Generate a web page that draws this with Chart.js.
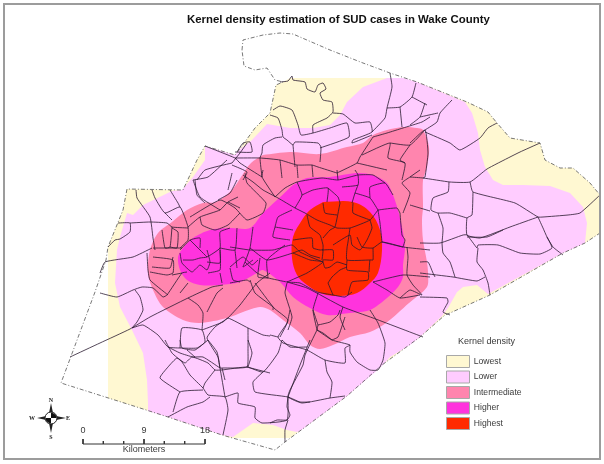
<!DOCTYPE html>
<html>
<head>
<meta charset="utf-8">
<title>Kernel density estimation of SUD cases in Wake County</title>
<script src="https://cdn.jsdelivr.net/npm/chart.js@4/dist/chart.umd.min.js"></script>
<style>
  html, body { margin: 0; padding: 0; background: #fff; }
  #wrap { position: relative; width: 604px; height: 464px; overflow: hidden; }
  #frame { position: absolute; left: 3px; top: 3px; width: 594px; height: 453px; border: 2px solid #9c9c9c; pointer-events: none; }
</style>
</head>
<body>
<div id="wrap">
  <canvas id="mapChart" width="604" height="464"></canvas>
  <div id="frame"></div>
</div>
<script>
// ========== DATA (map units) ========== //
const chartTitle = "Kernel density estimation of SUD cases in Wake County";
const legendTitle = "Kernel density";
const bandNames = ["Lowest", "Lower", "Intermediate", "Higher", "Highest"];
const bandColors = ["#FFF8D2", "#FFCCFF", "#FF85AE", "#FF33DD", "#FF2A00"];

const county = [[242,50],[243,40],[263,35],[280,33],[293,34],[330,50],[363,63],[390,73],[417,82],[467,102],[488,112],[497,123],[510,138],[540,143],[545,160],[560,168],[573,168],[590,183],[600,195],[600,233],[585,243],[563,253],[490,295],[450,313],[445,315],[420,337],[382,365],[347,396],[285,442],[275,450],[222,435],[168,417],[140,408],[61,383],[95,292],[106,260],[108,247],[123,210],[127,189],[183,190],[197,160],[205,146],[235,155],[239,150],[255,128],[270,113],[276,85],[283,82],[275,80],[267,68],[255,70],[244,66],[242,50]];

const lowest = [[283,82],[290,78],[395,78],[417,82],[467,102],[488,112],[497,123],[510,138],[540,143],[545,160],[560,168],[573,168],[590,183],[600,195],[600,233],[585,243],[563,253],[490,295],[450,313],[445,315],[420,337],[382,365],[347,396],[290,438],[231,438],[222,435],[168,417],[140,408],[108,398],[108,247],[123,210],[127,189],[183,190],[197,160],[205,146],[235,155],[239,150],[255,128],[270,113],[276,85],[283,82]];
const lower = [[387,78],[403,78],[417,82],[465,102],[472,113],[478,133],[480,150],[485,167],[493,180],[503,185],[523,185],[550,186],[570,193],[583,207],[587,223],[585,243],[563,253],[488,294],[477,285],[463,287],[457,292],[448,308],[442,316],[420,337],[410,345],[390,357],[380,368],[347,396],[300,431],[297,432],[287,430],[273,425],[253,423],[233,437],[222,435],[168,417],[148,411],[148,403],[147,380],[143,353],[132,330],[120,307],[115,283],[117,250],[120,237],[127,213],[133,215],[143,205],[172,191],[182,190],[193,177],[205,160],[205,146],[235,155],[239,150],[252,140],[267,124],[290,128],[313,128],[330,125],[340,115],[347,102],[363,87],[387,78]];
const intermediate = [[263,155],[290,152],[320,154],[347,147],[363,143],[373,135],[387,130],[403,127],[417,128],[423,130],[429,147],[427,167],[423,180],[423,207],[422,220],[423,240],[427,262],[428,273],[427,287],[409,303],[386,323],[370,332],[350,337],[333,345],[320,349],[310,345],[300,333],[283,320],[270,310],[260,307],[243,312],[227,318],[200,323],[183,320],[163,307],[153,290],[148,273],[150,250],[158,233],[172,222],[187,210],[203,203],[216,202],[232,190],[241,177],[251,163],[263,155]];
const higher = [[293,185],[307,178],[330,177],[357,173],[373,175],[387,183],[393,195],[398,210],[402,227],[405,247],[403,265],[403,277],[398,287],[387,298],[370,310],[350,313],[327,315],[310,308],[293,297],[280,282],[263,270],[257,273],[240,282],[220,285],[200,285],[187,280],[180,270],[178,257],[183,248],[193,238],[210,230],[230,228],[250,228],[263,213],[277,200],[293,185]];
const highest = [[323,202],[353,202],[370,212],[380,230],[382,250],[378,273],[370,283],[357,293],[340,296],[323,294],[307,285],[297,275],[292,258],[293,237],[302,220],[310,210],[323,202]];

const roads = [
  [[280,82],[288,81],[292,76],[293,80],[305,82],[307,89],[315,92],[318,85],[323,83],[326,89],[320,93],[323,100],[332,102],[333,112],[327,118],[313,125],[313,133]],
  [[273,110],[280,106],[292,110],[298,125],[301,135],[313,133],[330,128],[347,123],[349,137],[320,148]],
  [[270,115],[278,118],[282,130],[283,137],[287,140],[293,145],[295,142],[318,143],[321,147],[320,162]],
  [[282,137],[275,138],[263,145],[262,153]],
  [[293,145],[295,167]],
  [[333,113],[343,114],[355,123],[370,122],[372,132],[353,140],[352,143],[372,135]],
  [[390,73],[392,87],[387,108],[385,118],[372,132]],
  [[387,108],[400,107],[412,97],[416,83]],
  [[400,107],[402,127]],
  [[412,97],[427,105]],
  [[373,137],[387,133],[403,128],[422,122],[430,117]],
  [[425,130],[437,122],[440,113],[452,100]],
  [[420,117],[438,113]],
  [[410,125],[420,117],[425,103]],
  [[425,132],[450,143],[460,150],[480,138],[488,128],[497,123]],
  [[410,143],[425,130],[428,153],[425,177],[423,178]],
  [[410,177],[423,178],[450,182],[470,182],[487,169],[510,157],[520,152],[540,143]],
  [[470,182],[473,192],[515,203],[538,217],[543,217],[568,215],[580,213],[600,195]],
  [[473,192],[472,215],[467,218],[467,235],[480,238],[510,227],[538,217]],
  [[449,182],[448,192],[433,198],[431,210],[438,213],[450,213],[467,218]],
  [[438,213],[443,228],[442,243]],
  [[410,205],[430,211]],
  [[538,217],[543,228],[547,237],[553,247],[563,255]],
  [[420,243],[440,243],[463,235],[467,235],[477,248],[478,245],[498,245],[520,253],[540,254],[552,248],[547,237]],
  [[467,237],[487,237],[503,230]],
  [[442,243],[443,253],[450,262],[455,277]],
  [[478,248],[477,262],[483,270],[488,283],[490,295]],
  [[420,262],[428,262],[433,273],[435,277]],
  [[420,273],[453,277],[477,281],[485,277]],
  [[420,297],[447,298],[448,302],[443,312],[450,315]],
  [[230,247],[250,250],[273,250],[292,245],[300,252],[313,258],[323,262]],
  [[293,240],[312,238],[313,248],[320,250],[323,250],[322,260]],
  [[307,215],[310,227],[320,235],[323,245],[323,250]],
  [[305,213],[317,220],[330,225],[337,228],[350,228],[370,220],[378,210]],
  [[340,203],[335,227],[330,230],[323,238]],
  [[323,203],[325,213],[337,215]],
  [[353,203],[353,213],[370,220]],
  [[350,228],[348,242],[347,248],[347,260],[370,260]],
  [[333,245],[350,235],[352,245],[360,250],[367,240],[372,228],[370,220]],
  [[357,237],[362,247],[373,248],[382,242],[403,247]],
  [[347,260],[347,270],[368,272],[368,280],[352,282],[348,295]],
  [[373,248],[373,260],[370,260],[369,272]],
  [[322,250],[333,250],[333,260],[323,260],[325,268],[330,267],[337,262],[347,265]],
  [[293,253],[302,250],[310,255],[320,258]],
  [[293,253],[310,260],[323,262],[307,273],[287,282]],
  [[268,278],[287,282],[300,283],[317,292],[333,295],[345,297],[352,292]],
  [[328,283],[332,277],[340,270],[347,267]],
  [[328,283],[333,295]],
  [[373,282],[387,290],[400,298],[420,295]],
  [[287,282],[307,288],[343,307],[373,318],[423,337]],
  [[378,210],[380,223],[382,242]],
  [[243,175],[253,182],[263,190],[278,198],[295,208],[305,213]],
  [[275,197],[285,188],[297,182],[322,178],[338,180],[358,175],[373,175],[385,183]],
  [[263,170],[262,177],[275,197]],
  [[297,182],[302,195],[295,208]],
  [[302,195],[313,190],[328,188],[327,202]],
  [[328,188],[338,197],[340,203]],
  [[337,170],[338,180]],
  [[342,187],[358,185],[358,175],[355,170]],
  [[358,185],[355,193],[352,203]],
  [[355,193],[370,198],[378,210]],
  [[370,198],[370,187],[385,183],[393,195]],
  [[378,210],[397,208],[400,213]],
  [[382,242],[403,247],[430,250]],
  [[400,213],[402,235],[405,240],[403,247]],
  [[403,213],[410,193],[402,183],[410,177],[420,170]],
  [[373,282],[403,275],[430,277]],
  [[400,298],[410,290],[422,295],[413,285],[407,275],[408,257],[407,247]],
  [[253,227],[250,248],[245,262],[243,267],[253,260]],
  [[268,278],[267,260],[285,245]],
  [[250,248],[267,260],[293,253]],
  [[275,227],[278,217],[292,210]],
  [[275,227],[273,237],[290,240]],
  [[275,227],[293,230]],
  [[260,258],[258,277],[268,278]],
  [[245,262],[257,273],[268,278]],
  [[100,293],[117,297],[133,290],[142,287],[153,288],[163,297],[167,295],[182,273],[187,272]],
  [[135,290],[140,297],[143,310],[137,322],[132,328]],
  [[70,357],[100,343],[130,329],[150,317],[188,298],[212,287],[223,285]],
  [[132,328],[143,325],[158,335],[168,347],[180,348],[197,348],[205,342],[202,330],[182,328],[180,348]],
  [[202,330],[223,322],[228,318],[248,328],[263,335],[270,336]],
  [[188,298],[198,305],[203,313],[202,330]],
  [[228,318],[215,327],[207,338],[218,357],[220,368],[222,368],[247,367],[248,350],[248,328]],
  [[168,347],[180,353],[193,357],[203,357],[220,368]],
  [[222,368],[225,380]],
  [[247,367],[270,373]],
  [[207,312],[217,293],[223,288]],
  [[228,318],[240,305],[257,283],[270,273]],
  [[180,293],[188,283]],
  [[147,253],[148,270],[150,280],[168,295]],
  [[150,272],[167,275],[173,273],[173,260],[153,257]],
  [[182,273],[172,275]],
  [[180,253],[182,263],[192,272],[200,265],[207,270],[210,262],[207,250]],
  [[220,250],[220,270],[208,273]],
  [[220,273],[222,283]],
  [[230,268],[233,280],[240,282]],
  [[230,267],[243,257],[252,265],[258,260]],
  [[180,250],[190,240],[200,238],[200,248]],
  [[190,240],[200,250],[207,257]],
  [[183,260],[193,260],[200,258],[207,257],[220,248],[220,232],[230,228]],
  [[207,262],[220,263],[220,248]],
  [[220,248],[235,250],[237,228]],
  [[235,250],[237,268]],
  [[136,190],[137,198],[150,217],[153,238],[155,250]],
  [[118,223],[130,223],[130,232],[120,239],[115,240],[108,247]],
  [[130,223],[150,222],[167,223],[172,227],[188,228]],
  [[152,190],[155,198],[165,213],[180,207],[188,227],[188,240],[180,248]],
  [[170,190],[178,203],[180,207]],
  [[165,213],[172,220]],
  [[172,227],[170,247],[165,248],[162,230]],
  [[170,247],[177,248],[178,232],[172,228]],
  [[153,248],[182,248]],
  [[152,267],[170,268],[173,257]],
  [[188,227],[200,217],[220,210],[228,202],[238,197]],
  [[200,217],[202,225],[215,230],[228,225],[240,213]],
  [[193,180],[200,197],[220,210]],
  [[193,180],[208,177],[227,160]],
  [[218,200],[230,193],[237,180]],
  [[228,202],[240,208]],
  [[100,273],[105,262],[133,257],[152,248]],
  [[165,340],[172,353],[182,362],[190,375],[203,388],[208,395],[225,397],[228,410],[223,435]],
  [[168,417],[187,407],[203,402],[210,397]],
  [[173,412],[180,392],[203,390]],
  [[180,392],[160,378],[168,367],[177,358],[185,363],[192,357],[208,363],[215,370],[222,370]],
  [[180,340],[182,348],[195,350],[208,340]],
  [[187,350],[195,357]],
  [[208,340],[217,352],[220,368],[225,397]],
  [[215,370],[205,383],[203,388]],
  [[222,370],[247,367],[263,372],[278,353],[282,340]],
  [[248,340],[252,353],[248,367]],
  [[263,372],[253,382],[255,392],[288,397],[300,402],[310,402]],
  [[225,397],[238,393],[238,403],[255,407],[255,418],[262,423],[287,420],[288,397]],
  [[288,420],[285,430],[285,442]],
  [[310,340],[300,365],[288,397]],
  [[282,340],[290,347],[307,347]],
  [[290,310],[287,323],[278,337],[283,343],[307,350],[325,360],[345,363],[345,348],[350,345],[332,340],[317,330]],
  [[317,330],[305,355],[303,365],[290,390],[288,397],[302,403],[330,398],[345,396]],
  [[325,360],[327,372],[332,382],[330,398]],
  [[288,397],[287,407],[290,415],[287,420],[277,420],[270,423]],
  [[350,345],[350,352],[357,362],[370,370],[378,370],[383,360],[385,343],[378,323],[370,310]],
  [[270,335],[278,337]],
  [[318,325],[330,322],[338,315],[340,310]],
  [[317,330],[323,333],[332,340]],
  [[345,317],[338,337],[332,340]],
  [[318,325],[317,330]],
  [[313,310],[318,325]],
  [[250,280],[255,293],[273,307],[273,310]],
  [[230,283],[247,280],[250,282]],
  [[287,283],[285,293],[292,317],[288,330]],
  [[318,293],[313,310],[317,330]],
  [[343,307],[340,317],[345,330]],
  [[255,283],[274,308],[288,320],[280,337]],
  [[235,152],[252,152],[250,142],[243,143],[237,152]],
  [[235,158],[260,158],[280,160],[297,165],[312,165],[318,167],[337,173]],
  [[262,153],[260,158],[262,177]],
  [[280,160],[282,178]],
  [[297,165],[298,178]],
  [[312,165],[313,177]],
  [[232,165],[247,172],[243,180]],
  [[373,137],[360,157],[357,163],[337,173]],
  [[357,163],[387,170]],
  [[362,155],[390,143],[388,158],[405,163],[402,180]],
  [[390,143],[410,145],[425,130]],
  [[410,145],[400,160],[405,163]],
  [[205,146],[235,158],[240,163],[262,177]],
  [[232,163],[240,153],[247,143]],
  [[197,180],[205,170],[232,163]],
  [[195,180],[197,195],[205,203]],
  [[232,173],[228,190]],
  [[245,173],[247,183],[266,203],[263,213],[247,220],[235,208],[220,200],[190,217]]
];

// scale bar, north arrow
const scaleKm = [0, 3, 6, 9, 12, 15, 18];
const scaleLabels = ["0", "9", "18"];
const scaleUnit = "Kilometers";
const compassStar = [[51,403],[53.5,415.5],[66,418],[53.5,420.5],[51,433],[48.5,420.5],[37,418],[48.5,415.5],[51,403]];
const compassHub = [[51,418]];
const compassDarkA = [[51,418],[51,412.5],[54,413.5],[56,415.5],[56.5,418],[51,418]];
const compassDarkB = [[51,418],[51,423.5],[48,422.5],[46,420.5],[45.5,418],[51,418]];
const compassLetters = [["N",51,400],["S",51,437],["W",32,418],["E",68,418]];

// ========== HELPERS ========== //
const toPoints = arr => arr.map(p => ({ x: p[0], y: p[1] }));
const kmToMap = km => 83 + km * 122 / 18;
const labelColor = "#3a3a3a";
const labelFont = "'Liberation Sans', Arial, sans-serif";

function polygon(label, pts, color, order, tension) {
    return {
        label: label,
        data: toPoints(pts),
        showLine: true,
        fill: "shape",
        backgroundColor: color,
        borderColor: color,
        borderWidth: 0,
        pointRadius: 0,
        tension: tension,
        order: order
    };
}

function stroke(label, pts, color, width, order, tension) {
    return {
        label: label,
        data: toPoints(pts),
        showLine: true,
        fill: false,
        borderColor: color,
        borderWidth: width,
        borderJoinStyle: "round",
        pointRadius: 0,
        tension: tension || 0,
        order: order
    };
}

// ========== DATASETS ========== //
const bandShapes = [lowest, lower, intermediate, higher, highest];
const bandTension = [0, 0, 0.3, 0.3, 0.35];
const datasets = bandShapes.map((pts, i) => polygon(bandNames[i], pts, bandColors[i], 100 - i, bandTension[i]));

roads.forEach((r, i) => datasets.push(stroke("road " + i, r, "#2a1a30", 0.8, 50, 0.15)));

const countyLine = stroke("county", county, "#555", 0.8, 40);
countyLine.borderDash = [4, 2, 1, 2];
datasets.push(countyLine);

datasets.push(stroke("scale bar", [[kmToMap(0),444],[kmToMap(18),444]], "#333", 1, 30));
scaleKm.forEach(km => {
    const top = km % 9 === 0 ? 439 : 441;
    datasets.push(stroke("scale tick " + km, [[kmToMap(km),top],[kmToMap(km),444]], "#333", 1, 30));
});

datasets.push(polygon("compass star", compassStar, "#222", 20, 0));
datasets.push({
    label: "compass hub",
    data: toPoints(compassHub),
    pointRadius: 6,
    pointBackgroundColor: "#fff",
    pointBorderColor: "#222",
    pointBorderWidth: 1,
    order: 15
});
datasets.push(polygon("compass a", compassDarkA, "#111", 10, 0));
datasets.push(polygon("compass b", compassDarkB, "#111", 10, 0));

// ========== PLUGIN: place title + legend, map texts ========== //
const placeBlocks = {
    id: "placeBlocks",
    afterLayout(chart) {
        const t = chart.titleBlock;
        t.left = 187;
        t.right = 604;
        const l = chart.legend;
        l.left = 443;
        l.top = 352;
        l.right = 604;
        l.bottom = 464;
    },
    afterDatasetsDraw(chart) {
        const { ctx, scales } = chart;
        const px = v => scales.x.getPixelForValue(v);
        const py = v => scales.y.getPixelForValue(v);
        ctx.save();
        ctx.textAlign = "center";
        ctx.textBaseline = "middle";
        ctx.fillStyle = labelColor;
        ctx.font = "9px " + labelFont;
        scaleLabels.forEach((txt, i) => ctx.fillText(txt, px(kmToMap(i * 9)), py(431)));
        ctx.fillText(scaleUnit, px(kmToMap(9)), py(449.5));
        ctx.fillText(legendTitle, px(486.5), py(342));
        ctx.fillStyle = "#222";
        ctx.font = "bold 6px 'Liberation Serif', serif";
        compassLetters.forEach(c => ctx.fillText(c[0], px(c[1]), py(c[2])));
        ctx.restore();
    }
};

// ========== CHART ========== //
new Chart(document.getElementById("mapChart"), {
    type: "scatter",
    data: { datasets: datasets },
    plugins: [placeBlocks],
    options: {
        responsive: false,
        animation: false,
        events: [],
        layout: { padding: 0, autoPadding: false },
        scales: {
            x: { type: "linear", display: false, min: 0, max: 604 },
            y: { type: "linear", display: false, min: 32, max: 464, reverse: true }
        },
        plugins: {
            tooltip: { enabled: false },
            title: {
                display: true,
                text: chartTitle,
                align: "start",
                color: "#111",
                font: { family: labelFont, size: 11.4, weight: "bold", lineHeight: 1.316 },
                padding: { top: 12, bottom: 5 }
            },
            legend: {
                display: true,
                position: "chartArea",
                align: "start",
                labels: {
                    boxWidth: 23,
                    boxHeight: 12,
                    padding: 3.5,
                    color: labelColor,
                    font: { family: labelFont, size: 8.6 },
                    sort: (a, b) => bandNames.indexOf(a.text) - bandNames.indexOf(b.text),
                    generateLabels(chart) {
                        return Chart.defaults.plugins.legend.labels.generateLabels(chart)
                            .filter(item => bandNames.includes(item.text))
                            .map(item => Object.assign(item, { lineWidth: 1, strokeStyle: "#a8a8a8", fillStyle: bandColors[bandNames.indexOf(item.text)] }));
                    }
                }
            }
        }
    }
});
</script>
</body>
</html>
